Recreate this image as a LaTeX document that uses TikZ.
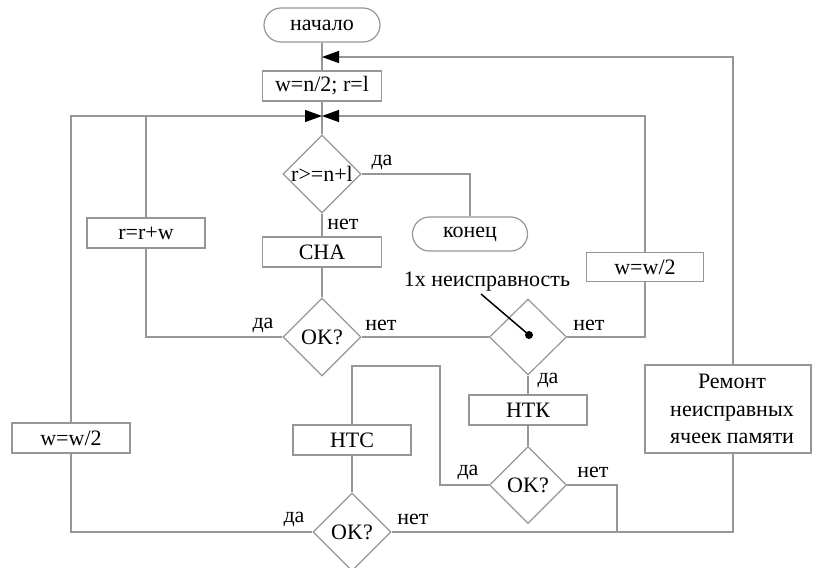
\documentclass[tikz,border=0pt]{standalone}
\usepackage{fontspec}
\setmainfont{Liberation Serif}
\usetikzlibrary{shapes.geometric,arrows.meta}
\definecolor{linec}{RGB}{150,150,150}
\begin{document}
\begin{tikzpicture}[x=1pt,y=-1pt,
  font=\fontsize{22}{27.5}\selectfont,
  ln/.style={draw=linec,line width=1.2pt},
  box/.style={ln,rectangle,minimum width=118pt,minimum height=30pt,inner sep=0pt},
  term/.style={ln,rectangle,rounded corners=17pt,minimum width=116pt,minimum height=34pt,inner sep=0pt},
  dia/.style={ln,diamond,minimum width=78pt,minimum height=78pt,inner sep=0pt},
  arr/.style={ln,-{Triangle[length=17pt,width=12pt,color=black]}},
  lbl/.style={inner sep=0pt}]
\useasboundingbox (0,0) rectangle (813,567);
\clip (0,0) rectangle (813,567);

% nodes
\node[term] (start) at (322,25) {начало};
\node[box,minimum width=119pt] (init) at (322,86) {w=n/2; r=l};
\coordinate (a) at (322,57);
\coordinate (j) at (322,116);
\node[dia] (d1) at (322,174) {\makebox[0pt]{r>=n+l}};
\node[box,minimum width=119pt] (cha) at (322,252) {СНА};
\node[term,minimum width=115pt] (endn) at (470,234) {конец};
\node[box] (rw) at (146,233) {r=r+w};
\node[dia] (d2) at (322,337) {\makebox[0pt]{OK?}};
\node[dia,minimum width=77pt,minimum height=76pt] (d3) at (528,337) {};
\node[circle,fill=black,inner sep=0pt,minimum size=8pt] (dot) at (529,335) {};
\node[lbl] (fault) at (487,282) {1х неисправность};
\coordinate (fl) at (481,294);
\node[box,minimum width=117pt,minimum height=29pt] (w2r) at (645,267) {w=w/2};
\node[box] (ntk) at (528,410) {НТК};
\node[dia,minimum width=77pt,minimum height=77pt] (d4) at (528,485) {\makebox[0pt]{OK?}};
\node[box] (htc) at (352,440) {НТС};
\node[dia] (d5) at (352,532) {\makebox[0pt]{OK?}};
\node[box] (w2l) at (71,438) {w=w/2};
\node[box,minimum width=166pt,minimum height=88pt] (rem) at (728,409) {};
\node[lbl,align=center] (remt) at (732,409) {Ремонт\\неисправных\\ячеек памяти};
\coordinate (k1) at (440,366);
\coordinate (k2) at (617,532);

% labels
\node[lbl] (l1) at (382,162) {да};
\node[lbl] (l2) at (343,224) {нет};
\node[lbl] (l3) at (263,325) {да};
\node[lbl] (l4) at (381,325) {нет};
\node[lbl] (l5) at (589,325) {нет};
\node[lbl] (l6) at (548,380) {да};
\node[lbl] (l7) at (468,472) {да};
\node[lbl] (l8) at (593,472) {нет};
\node[lbl] (l9) at (294,519) {да};
\node[lbl] (l10) at (413,519) {нет};

% connectors
\draw[ln] (start) -- (init);
\draw[ln] (init) -- (d1);
\draw[arr] ([xshift=5pt]rem.north) |- (a);
\draw[arr] (w2l.north) |- (j);
\draw[arr] (w2r.north) |- (j);
\draw[ln] (rw.north) -- (rw.north |- j);
\draw[ln] (d1.east) -| (endn.north);
\draw[ln] (d1) -- (cha);
\draw[ln] (cha) -- (d2);
\draw[ln] (d2.west) -| (rw.south);
\draw[ln] (d2.east) -- (d3.west);
\draw[ln] (d3.east) -| (w2r.south);
\draw[ln] (d3) -- (ntk);
\draw[ln] (ntk) -- (d4);
\draw[ln] (d4.west) -| (k1) -| (htc.north);
\draw[ln] (htc) -- (d5);
\draw[ln] (d5.west) -| (w2l.south);
\draw[ln] (d5.east) -| ([xshift=5pt]rem.south);
\draw[ln] (d4.east) -| (k2);
\draw[black,line width=1.5pt] (fl) -- (dot.center);
\end{tikzpicture}
\end{document}
